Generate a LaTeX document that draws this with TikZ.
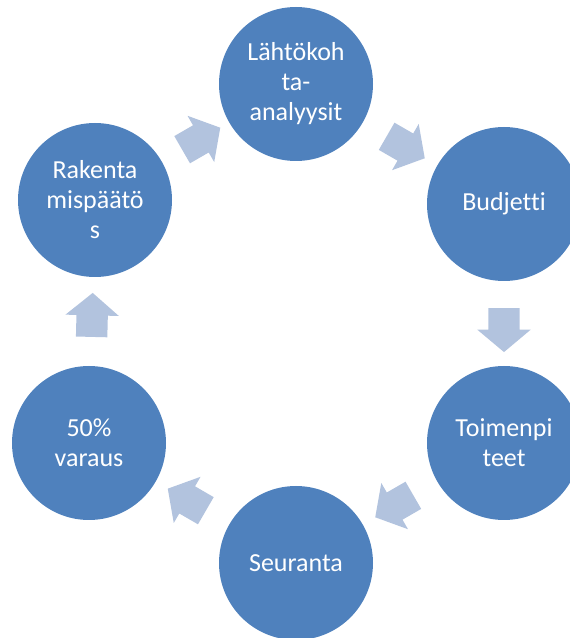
\documentclass[tikz,border=0pt]{standalone}
\usepackage{fontspec}
\setmainfont{Carlito}[Ligatures=CommonOff]
\usetikzlibrary{shapes.arrows}

\definecolor{stepblue}{RGB}{79,129,189}
\definecolor{arrowblue}{RGB}{178,195,222}

\begin{document}
\begin{tikzpicture}[x=1pt,y=1pt,
  main node/.style={circle,fill=stepblue,minimum size=154pt,inner sep=0pt,
    text=white,align=center,font=\fontsize{26}{30}\selectfont},
  flow arrow/.style={single arrow,fill=arrowblue,sloped,allow upside down,
    minimum height=44pt,minimum width=53pt,inner xsep=0pt,inner ysep=15.5pt,
    single arrow head extend=11pt,single arrow tip angle=100}]
  \useasboundingbox (0,0) rectangle (570,638);
  \clip (0,0) rectangle (570,638);

  \node[main node] (n0) at (296,554) {Lähtökoh\\ta-\\analyysit};
  \node[main node] (n1) at (504,434) {Budjetti};
  \node[main node] (n2) at (504,195) {Toimenpi\\teet};
  \node[main node] (n3) at (296,75) {Seuranta};
  \node[main node] (n4) at (89,195) {50\%\\varaus};
  \node[main node] (n5) at (95,438) {Rakenta\\mispäätö\\s};

 \path (n5) -- node[flow arrow] (a0) {} (n0);
 \path (n0) -- node[flow arrow] (a1) {} (n1);
 \path (n1) -- node[flow arrow] (a2) {} (n2);
 \path (n2) -- node[flow arrow] (a3) {} (n3);
 \path (n3) -- node[flow arrow] (a4) {} (n4);
 \path (n4) -- node[flow arrow] (a5) {} (n5);
\end{tikzpicture}
\end{document}
